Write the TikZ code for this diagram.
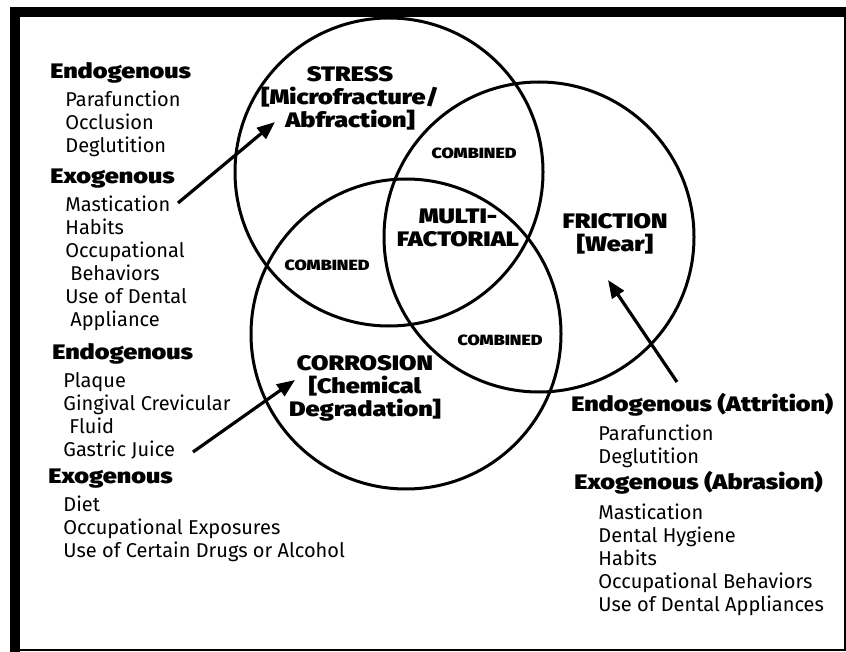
\documentclass[tikz,border=0pt]{standalone}
\usepackage{fontspec}
\setmainfont{Fira Sans}[BoldFont={Fira Sans Black}, BoldFeatures={FakeStretch=1.2}]
\usetikzlibrary{arrows.meta, positioning}

\tikzset{
  venn/.style={draw, circle, line width=1.5pt, inner sep=0pt},
  head/.style={font=\bfseries\fontsize{10.5}{11.5}\selectfont, anchor=base west, inner sep=0pt},
  items/.style={font=\fontsize{10}{11.5}\selectfont, align=left, anchor=north west, inner sep=0pt},
  circlabel/.style={font=\bfseries\fontsize{10.5}{11.5}\selectfont, align=center, inner sep=0pt},
  combo/.style={font=\bfseries\fontsize{7.4}{8}\selectfont, inner sep=0pt},
  pointer/.style={line width=1.6pt, -{Triangle[length=9pt,width=7pt]}}
}

\begin{document}
\begin{tikzpicture}[x=0.5pt, y=-0.5pt]
    \useasboundingbox (0,0) rectangle (846,652);
    % Frame
    \fill (10,7) rectangle (846,17);
    \fill (10,7) rectangle (20,652);
    \draw[line width=1pt] (20,650) -- (845,650) -- (845,17);

    % Circles
    \node[venn, minimum size=154pt] (stress) at (389,172) {};
    \node[venn, minimum size=155pt] (friction) at (539,237) {};
    \node[venn, minimum size=155pt] (corrosion) at (406,334) {};

    % Circle labels
    \node[circlabel] (stresslbl) at (350,98) {STRESS\\{}[Microfracture/\\Abfraction]};
    \node[circlabel] (frictionlbl) at (615,234) {FRICTION\\{}[Wear]};
    \node[circlabel] (corrosionlbl) at (365,388) {CORROSION\\{}[Chemical\\Degradation]};
    \node[circlabel] (multi) at (458,228) {MULTI-\\FACTORIAL};
    \node[combo] (comb1) at (474,153) {COMBINED};
    \node[combo] (comb2) at (327,265) {COMBINED};
    \node[combo] (comb3) at (500,340) {COMBINED};

    % Stress causes
    \node[head] (stressendo) at (50,78.5) {Endogenous};
    \node[items] (stressendoitems) at (65,90.5) {Parafunction\\Occlusion\\Deglutition};
    \node[head] (stressexo) at (50,183.5) {Exogenous};
    \node[items] (stressexoitems) at (65,195.5) {Mastication\\Habits\\Occupational\\\hspace*{2.5pt}Behaviors\\Use of Dental\\\hspace*{2.5pt}Appliance};

    % Corrosion causes
    \node[head] (correndo) at (52,359.5) {Endogenous};
    \node[items] (correndoitems) at (63,372) {Plaque\\Gingival Crevicular\\\hspace*{3pt}Fluid\\Gastric Juice};
    \node[head] (correxo) at (48,483.5) {Exogenous};
    \node[items] (correxoitems) at (63,495) {Diet\\Occupational Exposures\\Use of Certain Drugs or Alcohol};

    % Friction causes
    \node[head] (fricendo) at (571,411.5) {Endogenous (Attrition)};
    \node[items] (fricendoitems) at (598,424) {Parafunction\\Deglutition};
    \node[head] (fricexo) at (574,489.5) {Exogenous (Abrasion)};
    \node[items] (fricexoitems) at (598,503) {Mastication\\Dental Hygiene\\Habits\\Occupational Behaviors\\Use of Dental Appliances};

    % Arrows
    \coordinate (stresstail) at (178,203);
    \coordinate (stresstip) at (275,122);
    \coordinate (corrtail) at (193,452);
    \coordinate (corrtip) at (295,380);
    \coordinate (frictail) at (677,382);
    \coordinate (frictip) at (608,280);
    \draw[pointer] (stresstail) -- (stresstip);
    \draw[pointer] (corrtail) -- (corrtip);
    \draw[pointer] (frictail) -- (frictip);
\end{tikzpicture}
\end{document}
